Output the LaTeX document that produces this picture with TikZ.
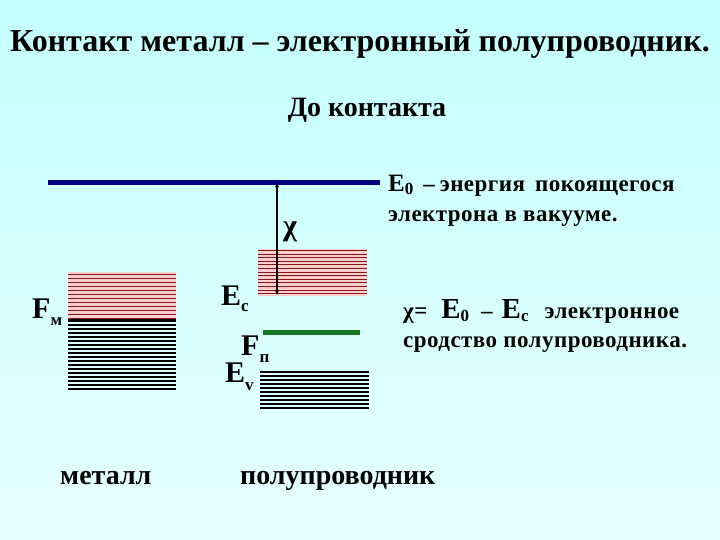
\documentclass[tikz,border=0pt]{standalone}
\usepackage{fontspec}
\setmainfont{Liberation Serif}
\newfontfamily\serifbf{Liberation Serif Bold}
\newfontfamily\serifbfwide{Liberation Serif Bold}[LetterSpace=2.0]
\usetikzlibrary{arrows.meta, positioning}
\definecolor{bgtop}{RGB}{196,255,255}
\definecolor{bgbot}{RGB}{230,255,255}
\definecolor{vacblue}{RGB}{0,0,128}
\definecolor{bandpink}{RGB}{255,205,205}
\definecolor{bandred}{RGB}{130,25,25}
\definecolor{fermigreen}{RGB}{20,120,30}
\newcommand{\lowsub}[2][7pt]{\raisebox{-#1}{\fontsize{17}{17}\selectfont #2}}
\newcommand{\bigE}[2][25]{{\fontsize{#1}{#1}\selectfont E\lowsub[3pt]{#2}}}

\begin{document}
\begin{tikzpicture}[x=1pt, y=-1pt,
txt/.style={font=\serifbfwide\fontsize{23}{23}\selectfont, inner sep=0pt, anchor=base west},
lvl/.style={font=\serifbf\fontsize{30}{30}\selectfont, inner sep=0pt, anchor=base west},
caption/.style={font=\serifbf\fontsize{28}{28}\selectfont, inner sep=0pt, anchor=base west},
hatch/.style={bandred, line width=0.9pt},
dark/.style={black, line width=1.1pt},
every node/.style={text=black}
]
% background
\fill[top color=bgtop, bottom color=bgbot] (0,0) rectangle (720,540);
\useasboundingbox (0,0) rectangle (720,540);

% titles
\node[font=\serifbf\fontsize{32}{32}\selectfont, inner sep=0pt, anchor=base] (title) at (360,52) {Контакт металл – электронный полупроводник.};
\node[font=\serifbf\fontsize{28}{28}\selectfont, inner sep=0pt, anchor=base] (before) at (367,117) {До контакта};

% vacuum level
\draw[vacblue, line width=5pt] (48,182.5) -- (380,182.5);
\coordinate (vac) at (277,182.5);

% metal bands
\fill[bandpink] (68,272) rectangle (176,320);
\foreach \y in {274,278,...,318} \draw[hatch] (68,\y) -- (176,\y);
\draw[black, line width=3.5pt] (68,320.5) -- (176,320.5);
\foreach \y in {325,329,...,389} \draw[dark] (68,\y) -- (176,\y);

% semiconductor conduction band
\fill[bandpink] (258,249) rectangle (367,296);
\foreach \y in {250.5,254.1,...,295} \draw[hatch] (258,\y) -- (367,\y);
\coordinate (cbot) at (277,295);

% semiconductor Fermi level
\draw[fermigreen, line width=5pt] (263,332.5) -- (360,332.5);

% valence band
\foreach \y in {372,376,...,408} \draw[dark] (260,\y) -- (369,\y);

% affinity arrow
\draw[{Stealth[length=5pt,width=4pt]}-{Stealth[length=5pt,width=4pt]}, line width=1.2pt] (vac) -- (cbot);
\node[lvl, anchor=center] (chi) at (290,232) {χ};

% level labels
\node[lvl] (fm) at (32,318) {F\lowsub{м}};
\node[lvl] (ec) at (221,305) {E\lowsub[6pt]{c}};
\node[lvl] (fp) at (241,355) {F\lowsub{п}};
\node[lvl] (ev) at (225,382) {E\lowsub[8pt]{v}};

% explanations
\node[txt] (e0) at (388,192) {\bigE{0}\hspace{10pt}–\hspace{5pt}энергия\hspace{4pt} покоящегося};
\node[txt] (e0b) at (388,222) {электрона в вакууме.};
\node[txt] (aff) at (403,318) {χ=\hspace{14pt}\bigE[29]{0}\hspace{12pt}–\hspace{9pt}\bigE[29]{c}\hspace{16pt}электронное};
\node[txt] (affb) at (403,347) {сродство полупроводника.};

% bottom captions
\node[caption] (metal) at (60,484) {металл};
\node[caption] (semi) at (240,484) {полупроводник};
\end{tikzpicture}
\end{document}
